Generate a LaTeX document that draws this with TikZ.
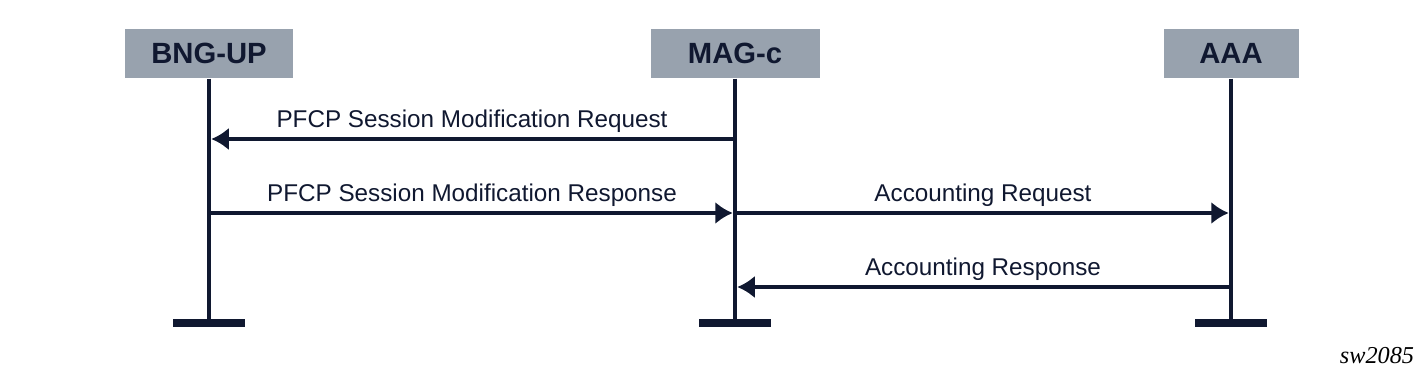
\documentclass[tikz,border=0pt]{standalone}
\usepackage{fontspec}
\setmainfont{Liberation Sans}
\newfontfamily\notefont{Liberation Serif}
\usetikzlibrary{arrows.meta,positioning}
\definecolor{navy}{RGB}{16,24,48}
\definecolor{boxgray}{RGB}{152,162,174}

\begin{document}
\begin{tikzpicture}[x=0.4pt, y=-0.4pt, every node/.style={font=\fontsize{9.7}{11}\selectfont, text=navy},
  actor/.style={fill=boxgray, minimum height=19.6pt, inner sep=0pt, font=\fontsize{11.7}{13}\selectfont\bfseries},
  life/.style={navy, line width=1.8pt},
  foot/.style={fill=navy, minimum width=29pt, minimum height=3.2pt, inner sep=0pt},
  msg/.style={navy, line width=1.5pt, -{Latex[length=7pt,width=9pt]}, shorten >=0.9pt},
  lbl/.style={midway, above=2pt, inner sep=0pt}]
  \useasboundingbox (0,0) rectangle (1425,374);
  % actors
  \node[actor, minimum width=67.2pt] (bng) at (209,53.5) {BNG-UP};
  \node[actor, minimum width=67.6pt] (mag) at (735,53.5) {MAG-c};
  \node[actor, minimum width=54pt] (aaa) at (1231,53.5) {AAA};
  % lifelines
  \node[foot] (bng-foot) at (209,323) {};
  \node[foot] (mag-foot) at (735,323) {};
  \node[foot] (aaa-foot) at (1231,323) {};
  \draw[life] (bng) -- (bng-foot);
  \draw[life] (mag) -- (mag-foot);
  \draw[life] (aaa) -- (aaa-foot);
  % message points
  \coordinate (bng-1) at (209,139);
  \coordinate (mag-1) at (735,139);
  \coordinate (bng-2) at (209,213);
  \coordinate (mag-2) at (735,213);
  \coordinate (aaa-2) at (1231,213);
  \coordinate (mag-3) at (735,287);
  \coordinate (aaa-3) at (1231,287);
  % messages
  \draw[msg] (mag-1) -- (bng-1) node[lbl]{PFCP Session Modification Request};
  \draw[msg] (bng-2) -- (mag-2) node[lbl]{PFCP Session Modification Response};
  \draw[msg] (mag-2) -- (aaa-2) node[lbl]{Accounting Request};
  \draw[msg] (aaa-3) -- (mag-3) node[lbl]{Accounting Response};
  \node[font=\notefont\itshape\fontsize{9.7}{11}\selectfont, text=black] (tag) at (1377,356) {sw2085};
\end{tikzpicture}
\end{document}
